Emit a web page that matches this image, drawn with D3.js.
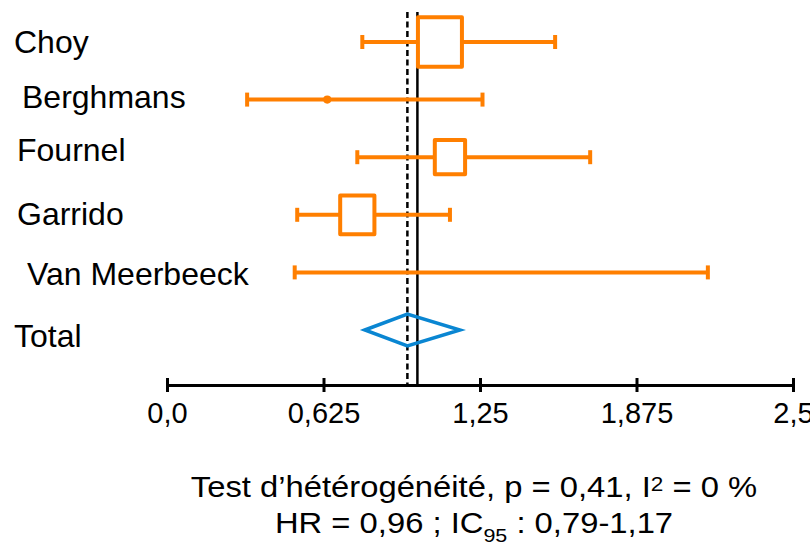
<!DOCTYPE html>
<html>
<head>
<meta charset="utf-8">
<script src="https://cdn.jsdelivr.net/npm/d3@7"></script>
<style>
  body { margin: 0; background: #fff; }
  svg text { font-family: "Liberation Sans", Arial, sans-serif; fill: #000; }
</style>
</head>
<body>
<div class="chart"></div>
<script>
// studies and hazard ratios
const studies = ['Choy', 'Berghmans', 'Fournel', 'Garrido', 'Van Meerbeeck']
const hr = [1.09, 0.64, 1.13, 0.76, null]
const lower = [0.78, 0.32, 0.76, 0.52, 0.51]
const upper = [1.55, 1.26, 1.69, 1.13, 2.16]
const weights = [38, 1, 18, 23, 0]

const pooled = [0.79, 0.96, 1.17]   // low, HR, high
const refLine = 1.0

const tickValues = [0, 0.625, 1.25, 1.875, 2.5]
const tickLabels = ['0,0', '0,625', '1,25', '1,875', '2,5']

// label nudges (the original labels are not aligned)
const labelX = [14, 22, 17, 17, 27, 14]
const labelDy = [11, 8, 4, 10, 13, 17]

const width = 810, height = 547
const orange = '#ff7f00', blue = '#0a86d2'

const svg = d3.select('.chart').append('svg')
  .attr('width', width)
  .attr('height', height)

const rows = studies.concat(['Total'])

const x = d3.scaleLinear().domain([0, 2.5]).range([167, 793])
const y = d3.scalePoint().domain(rows).range([42, 330])
const size = d3.scaleSqrt().domain([0, 38]).range([0, 44])

const axisY = 385

// reference lines
svg.append('line')
  .attr('x1', x(pooled[1])).attr('x2', x(pooled[1]))
  .attr('y1', 12).attr('y2', axisY)
  .attr('stroke', '#000').attr('stroke-width', 2.5)
  .attr('stroke-dasharray', '6,3.5')

svg.append('line')
  .attr('x1', x(refLine)).attr('x2', x(refLine))
  .attr('y1', 12).attr('y2', axisY)
  .attr('stroke', '#000').attr('stroke-width', 2.5)

// labels
svg.selectAll('text.lab')
  .data(rows)
  .enter()
  .append('text')
  .attr('class', 'lab')
  .attr('x', (d, i) => labelX[i])
  .attr('y', (d, i) => y(d) + labelDy[i])
  .attr('font-size', 32)
  .text(d => d)

// CI whiskers
const g = svg.append('g')
studies.forEach((s, i) => {
  const cy = y(s)
  g.append('line')
    .attr('x1', x(lower[i])).attr('x2', x(upper[i]))
    .attr('y1', cy).attr('y2', cy)
    .attr('stroke', orange).attr('stroke-width', 4)
  ;[lower[i], upper[i]].forEach(v => {
    g.append('line')
      .attr('x1', x(v)).attr('x2', x(v))
      .attr('y1', cy - 7).attr('y2', cy + 7)
      .attr('stroke', orange).attr('stroke-width', 4)
  })
  if (hr[i] == null) return
  const w = size(weights[i])
  if (w < 10) {
    g.append('circle')
      .attr('cx', x(hr[i])).attr('cy', cy)
      .attr('r', w / 2 + 0.5)
      .attr('fill', orange)
  } else {
    const h = w * 1.13
    g.append('rect')
      .attr('x', x(hr[i]) - w / 2).attr('y', cy - h / 2)
      .attr('width', w).attr('height', h)
      .attr('fill', '#fff')
      .attr('stroke', orange).attr('stroke-width', 4)
      .attr('stroke-linejoin', 'round')
  }
})

// pooled diamond
const ty = y('Total')
svg.append('path')
  .attr('d', d3.line()([
    [x(pooled[0]), ty], [x(pooled[1]), ty - 16],
    [x(pooled[2]), ty], [x(pooled[1]), ty + 16]
  ]) + 'Z')
  .attr('fill', 'none')
  .attr('stroke', blue).attr('stroke-width', 3.5)

// axis
const axis = d3.axisBottom(x)
  .tickValues(tickValues)
  .tickFormat((d, i) => tickLabels[i])
  .tickSize(7)
  .tickSizeOuter(0)

const ax = svg.append('g')
  .attr('transform', 'translate(0,' + axisY + ')')
  .call(axis)

ax.select('.domain').attr('stroke', '#000').attr('stroke-width', 3)
ax.selectAll('.tick line')
  .attr('y1', -7).attr('y2', 7)
  .attr('stroke', '#000').attr('stroke-width', 3)
ax.selectAll('.tick text')
  .attr('y', 38)
  .attr('dy', 0)
  .attr('font-size', 29)
  .attr('font-family', '"Liberation Sans", Arial, sans-serif')
  .attr('fill', '#000')

// footer (the original type is a little wider than Arial)
const f1 = svg.append('text')
  .attr('transform', 'translate(474,497) scale(1.13,1)')
  .attr('text-anchor', 'middle')
  .attr('font-size', 29)
f1.append('tspan').text('Test d\u2019hétérogénéité, p = 0,41, I')
f1.append('tspan').attr('font-size', 20).attr('dy', -6).text('2')
f1.append('tspan').attr('dy', 6).text(' = 0 %')

const f2 = svg.append('text')
  .attr('transform', 'translate(474,533) scale(1.13,1)')
  .attr('text-anchor', 'middle')
  .attr('font-size', 29)
f2.append('tspan').text('HR = 0,96 ; IC')
f2.append('tspan').attr('font-size', 19).attr('dy', 9).text('95')
f2.append('tspan').attr('dy', -9).text(' : 0,79-1,17')
</script>
</body>
</html>
